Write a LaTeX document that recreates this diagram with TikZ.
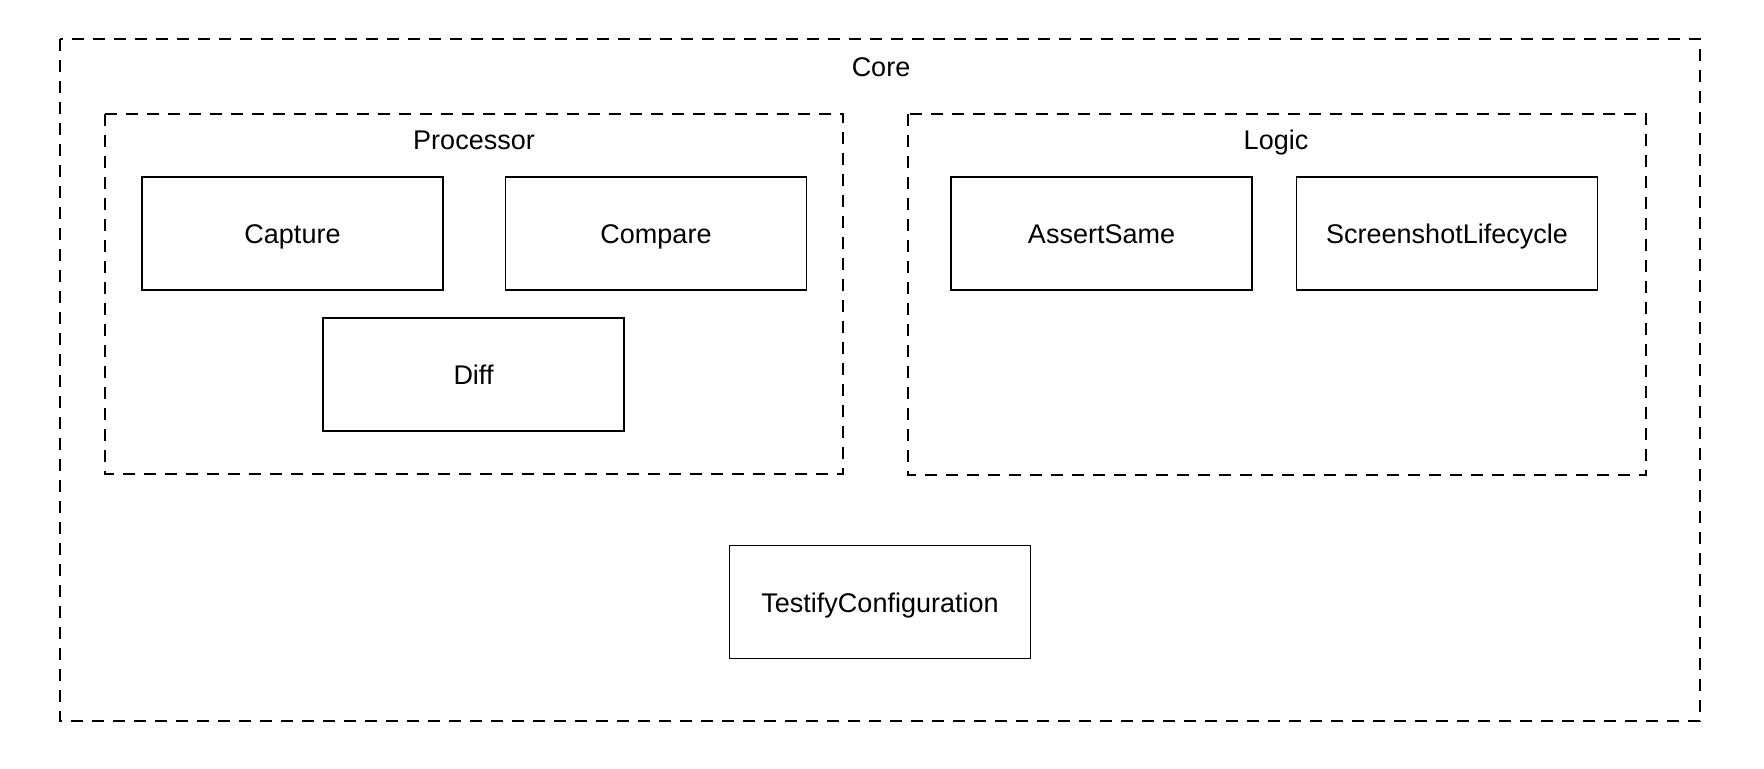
\documentclass[tikz,border=0pt]{standalone}
\usepackage{fontspec}
\setmainfont{Liberation Sans}
\begin{document}
\begin{tikzpicture}[x=0.5pt,y=-0.5pt,
  grp/.style={draw=black,line width=0.9pt,dash pattern=on 6pt off 4.5pt},
  comp/.style={draw=black,line width=0.8pt,minimum width=150.5pt,minimum height=56.5pt,inner sep=0pt,text height=2ex,text depth=0.1ex,font=\fontsize{13.5}{16}\selectfont},
  lbl/.style={font=\fontsize{13.5}{16}\selectfont,inner sep=0pt,text height=2ex,text depth=0.1ex}]
\useasboundingbox[fill=white] (0,0) rectangle (1764,768);
\draw[grp] (60,39) rectangle (1700,721);
\draw[grp] (105,114) rectangle (843,474);
\draw[grp] (908,114) rectangle (1646,475);
\node[lbl] (core) at (881,66) {Core};
\node[lbl] (proc) at (474,139) {Processor};
\node[lbl] (logic) at (1276,139) {Logic};
\node[comp] (capture) at (292.5,233.5) {Capture};
\node[comp] (compare) at (656,233.5) {Compare};
\node[comp] (diff) at (473.5,374.5) {Diff};
\node[comp] (assert) at (1101.5,233.5) {AssertSame};
\node[comp] (lifecycle) at (1447,233.5) {ScreenshotLifecycle};
\node[comp] (config) at (880,602) {TestifyConfiguration};
\end{tikzpicture}
\end{document}
